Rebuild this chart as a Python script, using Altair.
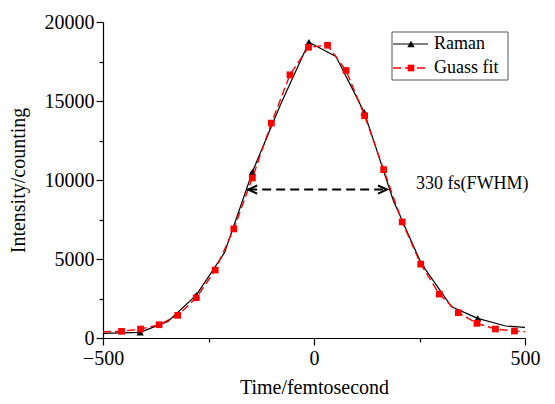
import altair as alt
import pandas as pd

# ---- data ----
raman_t = [-500, -412, -346, -279, -212, -146, -79, -12, 52, 119, 188, 254, 326, 388, 454, 500]
raman_v = [297, 360, 1050, 2716, 5400, 10505, 14800, 18718, 17814, 14296, 8700, 4719, 1977, 1244, 758, 676]
raman_marker_t = [-412, -279, -146, -12, 119, 254, 388]

gauss_t = [-500, -456, -411, -367, -323, -279, -234, -190, -146, -101, -57, -13, 32, 76,
           120, 165, 209, 253, 297, 342, 386, 430, 475, 500]
gauss_v = [398, 423, 569, 840, 1434, 2546, 4296, 6905, 10126, 13601, 16658, 18402, 18528, 16930,
           14068, 10657, 7347, 4675, 2780, 1598, 929, 569, 442, 398]

x_major = [-500, 0, 500]
x_minor = [-250, 250]
y_major = [0, 5000, 10000, 15000, 20000]
y_minor = [2500, 7500, 12500, 17500]

fwhm_left = [-156]
fwhm_right = [173]
fwhm_level = [9394]
fwhm_label = ["330 fs(FWHM)"]
fwhm_label_t = [242]
fwhm_label_v = [9750]

series_names = ["Raman", "Guass fit"]

FONT = "Liberation Serif"

raman_df = pd.DataFrame({"t": raman_t, "v": raman_v})
raman_pts = raman_df[raman_df["t"].isin(raman_marker_t)]
gauss_df = pd.DataFrame({"t": gauss_t, "v": gauss_v})
gauss_pts = gauss_df.iloc[1:-1]
one = pd.DataFrame({"k": [0]})

xscale = alt.Scale(domain=[-500, 500], nice=False, zero=False)
yscale = alt.Scale(domain=[0, 20000], nice=False)

common_axis = dict(
    grid=False, domainColor="black", domainWidth=1.2, tickColor="black", tickWidth=1.2,
    labelFont=FONT, labelFontSize=20, labelColor="black", labelFlush=False, labelOverlap=False,
    titleFont=FONT, titleFontSize=20, titleFontWeight="normal", titleColor="black",
)

xaxis = alt.Axis(values=x_major, title="Time/femtosecond", format="d", orient="bottom",
                 tickSize=7, labelPadding=3, titlePadding=9, **common_axis)
yaxis = alt.Axis(values=y_major, title="Intensity/counting", format="d", orient="left",
                 tickSize=7, labelPadding=2, titlePadding=16, **common_axis)
xaxis_minor = alt.Axis(values=x_minor, title=None, labels=False, domain=False, grid=False,
                       orient="bottom", tickSize=4, tickColor="black", tickWidth=1.2)
yaxis_minor = alt.Axis(values=y_minor, title=None, labels=False, domain=False, grid=False,
                       orient="left", tickSize=4, tickColor="black", tickWidth=1.2)

X = alt.X("t:Q", scale=xscale, axis=xaxis)
Y = alt.Y("v:Q", scale=yscale, axis=yaxis)
Xm = alt.X("t:Q", scale=xscale, axis=xaxis_minor)
Ym = alt.Y("v:Q", scale=yscale, axis=yaxis_minor)
Xn = alt.X("t:Q", scale=xscale, axis=None)
Yn = alt.Y("v:Q", scale=yscale, axis=None)

raman_line = alt.Chart(raman_df).mark_line(color="black", strokeWidth=1.2).encode(x=X, y=Y)
raman_mk = alt.Chart(raman_pts).mark_point(shape="triangle-up", filled=True, color="black",
                                           size=55, opacity=1, strokeWidth=0).encode(x=Xn, y=Yn)
gauss_line = alt.Chart(gauss_df).mark_line(color="#ff0000", strokeWidth=1.4,
                                           strokeDash=[8, 4]).encode(x=Xm, y=Ym)
gauss_mk = alt.Chart(gauss_pts).mark_point(shape="square", filled=True, color="#ff0000",
                                           size=45, opacity=1, strokeWidth=0).encode(x=Xn, y=Yn)

ann_df = pd.DataFrame({"t": fwhm_left, "t2": fwhm_right, "v": fwhm_level})
ann_rule = alt.Chart(ann_df).mark_rule(color="black", strokeWidth=2, strokeDash=[9, 5]).encode(
    x=Xn, x2="t2:Q", y=Yn)
ann_left = alt.Chart(ann_df).mark_point(shape="M1,-0.45L0,0L1,0.45", filled=False, color="black",
                                        strokeWidth=2, size=324, opacity=1).encode(x=Xn, y=Yn)
ann_right = alt.Chart(ann_df).mark_point(shape="M-1,-0.45L0,0L-1,0.45", filled=False, color="black",
                                         strokeWidth=2, size=324, opacity=1).encode(
    x=alt.X("t2:Q", scale=xscale, axis=None), y=Yn)
lab_df = pd.DataFrame({"t": fwhm_label_t, "v": fwhm_label_v, "label": fwhm_label})
ann_text = alt.Chart(lab_df).mark_text(font=FONT, fontSize=18, align="left", baseline="middle",
                                       color="black").encode(x=Xn, y=Yn, text="label:N")

# ---- legend box ----
leg_box = alt.Chart(one).mark_rect(fill="white", stroke="#555555", strokeWidth=1).encode(
    x=alt.value(289), x2=alt.value(405), y=alt.value(10), y2=alt.value(58))
leg_r_line = alt.Chart(one).mark_rule(color="black", strokeWidth=1.2).encode(
    x=alt.value(290), x2=alt.value(325), y=alt.value(22))
leg_r_mk = alt.Chart(one).mark_point(shape="triangle-up", filled=True, color="black", size=55,
                                     opacity=1, strokeWidth=0).encode(x=alt.value(308), y=alt.value(22))
leg_r_txt = alt.Chart(one).mark_text(font=FONT, fontSize=18, align="left", baseline="middle",
                                     color="black", text=series_names[0]).encode(
    x=alt.value(331), y=alt.value(22))
leg_g_line = alt.Chart(one).mark_rule(color="#ff0000", strokeWidth=1.4, strokeDash=[8, 4]).encode(
    x=alt.value(290), x2=alt.value(325), y=alt.value(46))
leg_g_mk = alt.Chart(one).mark_point(shape="square", filled=True, color="#ff0000", size=45,
                                     opacity=1, strokeWidth=0).encode(x=alt.value(308), y=alt.value(46))
leg_g_txt = alt.Chart(one).mark_text(font=FONT, fontSize=18, align="left", baseline="middle",
                                     color="black", text=series_names[1]).encode(
    x=alt.value(331), y=alt.value(46))

chart = alt.layer(
    raman_line, raman_mk, gauss_line, gauss_mk,
    ann_rule, ann_left, ann_right, ann_text,
    leg_box, leg_r_line, leg_r_mk, leg_r_txt, leg_g_line, leg_g_mk, leg_g_txt,
).resolve_axis(x="independent", y="independent").properties(
    width=422, height=316,
    padding={"left": 95, "top": 14, "right": 22, "bottom": 58},
    autosize="none",
).configure_view(stroke=None)

chart.save("out.html", embed_options={"renderer": "svg", "actions": False})
